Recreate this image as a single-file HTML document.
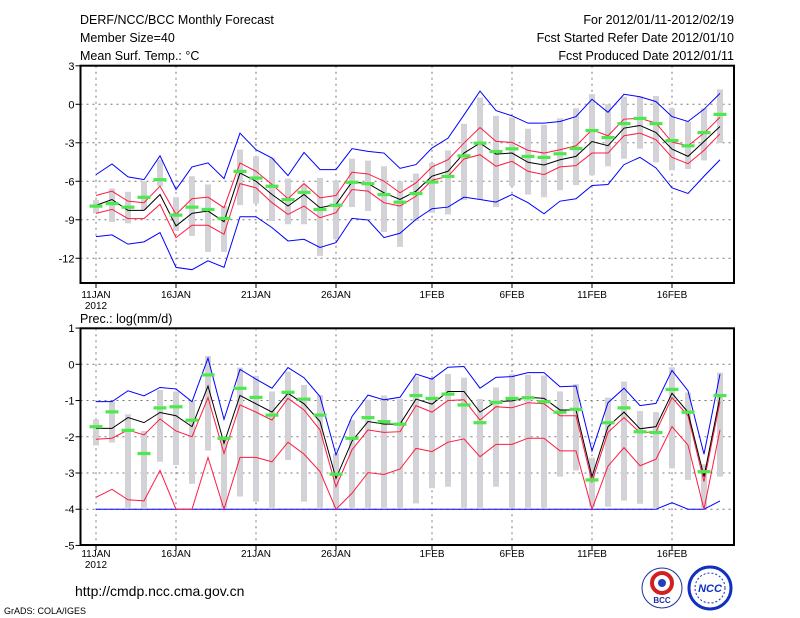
<!DOCTYPE html>
<html><head><meta charset="utf-8">
<style>
body{margin:0;background:#fff;}
svg{display:block;font-family:"Liberation Sans",sans-serif;}
</style></head>
<body>
<svg id="chart" width="800" height="618" viewBox="0 0 800 618" xmlns="http://www.w3.org/2000/svg">
<rect width="800" height="618" fill="#fff"/>
<g font-size="12.5" fill="#000">
<text x="80" y="24">DERF/NCC/BCC Monthly Forecast</text>
<text x="80" y="42">Member Size=40</text>
<text x="80" y="60">Mean Surf. Temp.: °C</text>
<text x="734" y="24" text-anchor="end">For 2012/01/11-2012/02/19</text>
<text x="734" y="42" text-anchor="end">Fcst Started Refer Date 2012/01/10</text>
<text x="734" y="60" text-anchor="end">Fcst Produced Date 2012/01/11</text>
<text x="80" y="323">Prec.: log(mm/d)</text>
</g>
<g id="top"></g>
<g id="bot"></g>
<text x="75" y="596" font-size="14">http://cmdp.ncc.cma.gov.cn</text>
<text x="4" y="614" font-size="9">GrADS: COLA/IGES</text>
<g>
<circle cx="662" cy="588" r="20" fill="#fff" stroke="#2030a0" stroke-width="1"/>
<circle cx="662" cy="583" r="10" fill="none" stroke="#d02020" stroke-width="4"/>
<circle cx="662" cy="583" r="4" fill="#2040c0"/>
<text x="662" y="603" font-size="8" font-weight="bold" text-anchor="middle" fill="#2030a0">BCC</text>
</g>
<g>
<circle cx="710" cy="588" r="21" fill="#fff" stroke="#1030c0" stroke-width="3"/>
<circle cx="710" cy="588" r="15" fill="none" stroke="#1030c0" stroke-width="1" stroke-dasharray="2 2"/>
<text x="710" y="592" font-size="11" font-weight="bold" font-style="italic" text-anchor="middle" fill="#1030c0">NCC</text>
</g>
</svg>
<script>
const dayLabels = ["11JAN","16JAN","21JAN","26JAN","1FEB","6FEB","11FEB","16FEB"];
const dayLabelIdx = [0,5,10,15,21,26,31,36];
const tTicks = [3,0,-3,-6,-9,-12];
const pTicks = [1,0,-1,-2,-3,-4,-5];

const tMean = [-7.88,-7.42,-8.27,-8.27,-7.03,-9.48,-8.5,-8.32,-9.15,-5.35,-6.0,-7.03,-7.93,-7.03,-8.06,-7.8,-6.05,-6.18,-6.9,-7.42,-6.77,-5.6,-5.22,-3.8,-3.02,-3.88,-3.8,-4.52,-4.73,-4.32,-4.06,-2.9,-3.23,-1.86,-1.65,-2.2,-3.49,-4.06,-2.9,-1.73];
const tRedHi = [-7.11,-6.77,-7.55,-7.67,-6.38,-8.58,-7.36,-7.24,-8.06,-4.57,-5.22,-6.25,-7.36,-6.18,-7.29,-7.11,-5.30,-5.43,-5.99,-6.90,-6.12,-4.88,-4.32,-3.02,-1.81,-2.89,-2.97,-3.59,-3.80,-3.54,-3.23,-1.99,-2.45,-1.16,-1.09,-1.47,-2.95,-3.23,-2.25,-1.01];
const tRedLo = [-8.50,-8.19,-8.91,-8.91,-7.80,-10.39,-9.43,-9.43,-10.13,-6.18,-6.51,-7.67,-8.58,-7.93,-8.84,-8.45,-6.64,-6.77,-7.67,-7.93,-7.16,-5.92,-5.61,-4.26,-3.93,-4.83,-4.44,-5.22,-5.48,-4.88,-4.78,-3.80,-3.80,-2.45,-2.25,-2.76,-4.13,-4.63,-3.59,-2.30];
const tBlueHi = [-5.48,-4.65,-5.66,-5.87,-4.01,-6.64,-4.88,-4.57,-5.79,-2.25,-3.54,-4.19,-5.56,-3.75,-5.09,-5.09,-3.46,-3.67,-3.80,-4.99,-4.70,-3.41,-2.64,-0.83,1.03,-0.49,-0.90,-1.47,-1.47,-1.34,-0.96,0.39,-0.62,0.78,0.59,0.21,-0.96,-1.34,-0.39,0.85];
const tBlueLo = [-10.31,-10.18,-10.90,-10.72,-10.0,-12.71,-12.89,-12.20,-12.71,-8.76,-8.76,-9.61,-10.65,-10.52,-11.16,-10.78,-8.89,-9.02,-10.39,-10.05,-8.97,-8.14,-8.01,-7.24,-7.42,-7.62,-7.03,-7.67,-8.53,-7.55,-7.36,-6.33,-6.25,-4.70,-4.13,-4.96,-6.51,-6.95,-5.61,-4.32];
const tObs = [-7.93,-7.73,-8.01,-7.24,-5.87,-8.63,-8.01,-8.19,-8.89,-5.22,-5.74,-6.38,-7.42,-6.85,-8.19,-7.86,-6.07,-6.18,-7.03,-7.62,-6.95,-6.05,-5.61,-4.01,-3.02,-3.67,-3.46,-4.06,-4.13,-3.85,-3.44,-2.04,-2.58,-1.50,-1.09,-1.50,-2.82,-3.23,-2.20,-0.78];
const tMax = [-7.47,-6.56,-6.82,-5.99,-4.32,-7.24,-5.61,-6.25,-7.93,-3.54,-4.06,-4.19,-5.79,-6.25,-5.74,-5.94,-4.24,-4.39,-4.83,-5.99,-5.40,-4.57,-3.59,-1.52,0.52,-0.90,-1.03,-1.91,-1.60,-1.09,-0.31,0.80,0,0.59,0.59,0.65,-0.31,-1.34,-0.31,1.16];
const tMin = [-8.50,-9.17,-9.28,-8.24,-6.38,-9.87,-10.26,-11.50,-11.50,-7.86,-7.73,-9.10,-9.35,-9.35,-11.81,-10.52,-8.01,-8.32,-9.95,-11.11,-9.10,-8.45,-8.58,-7.47,-7.42,-8.01,-6.38,-7.03,-7.24,-6.69,-6.30,-5.53,-4.83,-4.24,-3.46,-4.52,-5.14,-5.04,-4.37,-3.02];

const pMean = [-1.77,-1.77,-1.47,-1.61,-1.33,-1.42,-1.72,-0.60,-2.18,-0.86,-1.09,-1.32,-0.80,-1.09,-1.58,-3.15,-2.12,-1.58,-1.65,-1.65,-0.96,-1.10,-0.75,-0.75,-1.32,-1.03,-1.01,-0.91,-0.94,-1.26,-1.26,-3.10,-1.72,-1.32,-1.78,-1.72,-0.80,-1.32,-3.10,-0.89];
const pRedHi = [-2.07,-2.04,-1.81,-1.95,-1.51,-1.84,-2.00,-0.92,-2.46,-1.12,-1.32,-1.54,-0.94,-1.26,-1.81,-3.38,-2.36,-1.81,-1.88,-1.86,-1.14,-1.32,-1.00,-0.98,-1.54,-1.17,-1.20,-1.06,-1.09,-1.42,-1.42,-3.24,-1.88,-1.47,-1.89,-1.86,-0.92,-1.42,-3.24,-1.03];
const pRedLo = [-3.67,-3.45,-3.74,-3.77,-2.93,-4,-4,-2.57,-4,-2.57,-2.57,-2.69,-2.15,-2.48,-2.96,-4,-3.56,-2.99,-3.04,-2.89,-2.32,-2.41,-2.15,-2.06,-2.55,-2.21,-2.21,-2.04,-2.04,-2.39,-2.39,-4,-2.81,-2.30,-2.80,-2.62,-1.72,-2.23,-4,-1.81];
const pBlueHi = [-1.03,-1.03,-0.73,-0.87,-0.64,-0.68,-1.03,0.17,-1.52,-0.14,-0.41,-0.66,-0.09,-0.37,-0.89,-2.50,-1.44,-0.85,-0.98,-0.91,-0.27,-0.41,-0.08,-0.06,-0.66,-0.36,-0.34,-0.23,-0.23,-0.62,-0.60,-2.39,-1.06,-0.66,-1.14,-1.08,-0.17,-0.73,-2.48,-0.27];
const pBlueLo = [-4,-4,-4,-4,-4,-4,-4,-4,-4,-4,-4,-4,-4,-4,-4,-4,-4,-4,-4,-4,-4,-4,-4,-4,-4,-4,-4,-4,-4,-4,-4,-4,-4,-4,-4,-4,-3.82,-4,-4,-3.77];
const pObs = [-1.72,-1.31,-1.82,-2.46,-1.20,-1.17,-1.54,-0.29,-2.04,-0.66,-0.91,-1.40,-0.77,-0.96,-1.40,-3.03,-2.04,-1.47,-1.58,-1.65,-0.86,-0.94,-0.82,-1.12,-1.61,-1.05,-0.94,-0.92,-1.03,-1.32,-1.24,-3.19,-1.61,-1.20,-1.86,-1.88,-0.69,-1.32,-2.96,-0.86];
const pMax = [-1.52,-1.03,-1.38,-1.84,-0.71,-0.75,-1.01,0.23,-2.0,-0.09,-0.32,-0.75,-0.20,-0.57,-0.85,-2.46,-1.54,-0.98,-0.86,-0.96,-0.34,-0.39,-0.27,-0.37,-0.96,-0.64,-0.27,-0.29,-0.31,-0.75,-0.55,-2.58,-0.92,-0.48,-1.29,-1.32,-0.08,-0.78,-2.76,-0.23];
const pMin = [-2.24,-2.16,-3.96,-3.96,-2.69,-2.78,-3.30,-2.38,-3.96,-3.65,-3.79,-3.96,-2.64,-3.79,-3.96,-3.96,-3.96,-3.96,-3.96,-3.96,-3.84,-3.42,-3.38,-3.96,-3.96,-3.38,-3.96,-3.96,-3.96,-3.10,-2.93,-3.93,-3.93,-3.76,-3.85,-3.96,-2.87,-3.19,-3.96,-3.10];

const NS="http://www.w3.org/2000/svg";
const X0=80.5, X1=734, DAY0=96, DX=16.0;
function xs(d){return DAY0+d*DX;}
function mk(parent,tag,attrs){const e=document.createElementNS(NS,tag);for(const k in attrs)e.setAttribute(k,attrs[k]);parent.appendChild(e);return e;}

function panel(g,top,bottom,zeroY,scale,ticks,series,prefix,labY){
  const ys=v=>zeroY-v*scale;
  // grid
  ticks.forEach(t=>{
    const y=ys(t);
    if(y>top+1&&y<bottom-1){const l=mk(g,'line',{x1:X0,x2:X1,y1:y,y2:y,stroke:'#777','stroke-dasharray':'2 4','stroke-width':1});
      
      }
    const tk=mk(g,'line',{x1:X0-5,x2:X0,y1:y,y2:y,stroke:'#000'});
    
    
    const tx=mk(g,'text',{x:X0-6,y:y+4,'font-size':11,'text-anchor':'end'});
    tx.textContent=String(t);
    
    
  });
  dayLabelIdx.forEach((d,i)=>{
    const x=xs(d);
    const l=mk(g,'line',{x1:x,x2:x,y1:top,y2:bottom,stroke:'#777','stroke-dasharray':'2 4'});
    
    
    const tk=mk(g,'line',{x1:x,x2:x,y1:bottom,y2:bottom+5,stroke:'#000'});
    
    
    const tx=mk(g,'text',{x:x,y:labY,'font-size':10,'text-anchor':'middle'});
    tx.textContent=dayLabels[i];
    
    
  });
  const yr=mk(g,'text',{x:xs(0),y:labY+11,'font-size':10,'text-anchor':'middle'});
  yr.textContent='2012';
  
  
  // bars
  series.max.forEach((v,d)=>{
    const y1=ys(v),y2=ys(series.min[d]);
    const r=mk(g,'rect',{x:xs(d)-3,y:y1,width:6,height:Math.max(1,y2-y1),fill:'#d3d3d7'});
    
    
  });
  const line=(arr,col,name)=>{
    const p=mk(g,'polyline',{points:arr.map((v,d)=>xs(d)+','+ys(v)).join(' '),fill:'none',stroke:col,'stroke-width':1});
    
    
  };
  line(series.blo,'#0000ff',prefix+'-min-line');
  line(series.bhi,'#0000ff',prefix+'-max-line');
  line(series.rlo,'#ff1a40',prefix+'-lower-line');
  line(series.rhi,'#ff1a40',prefix+'-upper-line');
  line(series.mean,'#000',prefix+'-mean-line');
  series.obs.forEach((v,d)=>{
    const r=mk(g,'rect',{x:xs(d)-6.5,y:ys(v)-1.5,width:13,height:3.2,fill:'#4de84d'});
    
    
  });
  const f=mk(g,'rect',{x:X0,y:top,width:X1-X0,height:bottom-top,fill:'none',stroke:'#000','stroke-width':2});
  
  
}
panel(document.getElementById('top'),65.7,283,104.3,12.83,tTicks,
  {mean:tMean,rhi:tRedHi,rlo:tRedLo,bhi:tBlueHi,blo:tBlueLo,obs:tObs,max:tMax,min:tMin},'temp',298);
panel(document.getElementById('bot'),328.3,545,364.3,36.23,pTicks,
  {mean:pMean,rhi:pRedHi,rlo:pRedLo,bhi:pBlueHi,blo:pBlueLo,obs:pObs,max:pMax,min:pMin},'prec',557);
</script>
</body></html>
